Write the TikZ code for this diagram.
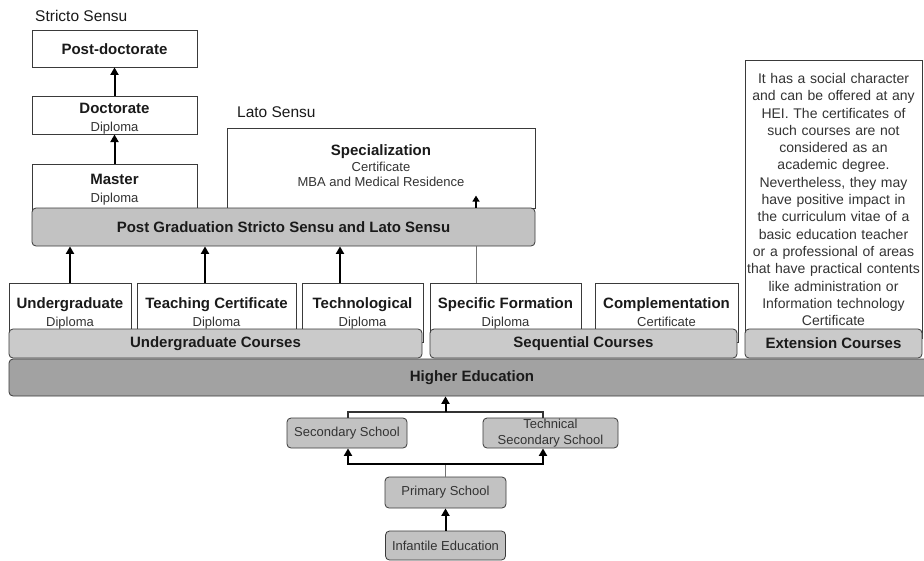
\documentclass[tikz,border=0pt]{standalone}
\usepackage{fontspec}
\setmainfont{Liberation Sans}
\usetikzlibrary{arrows.meta}
\definecolor{bordc}{HTML}{3A3A3A}
\definecolor{barA}{HTML}{C2C2C2}
\definecolor{barB}{HTML}{CACACA}
\definecolor{barC}{HTML}{A2A2A2}
\definecolor{txtc}{HTML}{1A1A1A}
\definecolor{subc}{HTML}{333333}
\newcommand\mytitlefont{\fontsize{15}{18}\selectfont\bfseries}
\newcommand\mysubfont{\fontsize{13}{17.5}\selectfont}
\tikzset{
  whitebox/.style={draw=bordc, fill=white, line width=0.8pt, inner sep=0pt, align=center, text=txtc, font=\fontsize{13}{17.5}\selectfont},
  bar/.style={draw=bordc, line width=0.8pt, rounded corners=4pt, inner sep=0pt, align=center, text=txtc, font=\mytitlefont},
  school/.style={draw=bordc, fill=barA, line width=0.8pt, rounded corners=4pt, inner sep=0pt, align=center, text=subc, font=\fontsize{13}{16}\selectfont},
  lbl/.style={inner sep=0pt, text=txtc, font=\fontsize{15.5}{18}\selectfont},
  arr/.style={line width=2pt, draw=black, -{Triangle[width=8pt,length=7.5pt]}},
  thinline/.style={draw=black!55, line width=0.8pt},
  joinline/.style={draw=black!80, line width=1.3pt},
}
\begin{document}
\begin{tikzpicture}[x=1pt,y=-1pt]
\clip (0,0) rectangle (924,560);
\fill[white] (0,0) rectangle (924,560);

% labels
\node[lbl, anchor=west] (lstricto) at (35,16) {Stricto Sensu};
\node[lbl, anchor=west] (llato) at (237,112) {Lato Sensu};

% stricto sensu boxes
\node[whitebox, minimum width=165pt, minimum height=37pt] (postdoc) at (114.5,48.5) {\rule{0pt}{12.5pt}\mytitlefont Post-doctorate};
\node[whitebox, minimum width=165pt, minimum height=38pt] (doc) at (114.5,115) {\rule{0pt}{18pt}\mytitlefont Doctorate\\\color{subc}\mysubfont Diploma};
\node[whitebox, minimum width=165pt, minimum height=48pt] (master) at (114.5,188) {\rule{0pt}{14pt}\mytitlefont Master\\\color{subc}\mysubfont Diploma};

% lato sensu box
\node[whitebox, minimum width=308pt, minimum height=80pt] (spec) at (381,168) {\mytitlefont Specialization\\[-1.5pt]\color{subc}\mysubfont Certificate\\[-2.5pt]\color{subc}\mysubfont MBA and Medical Residence\rule[-4pt]{0pt}{4pt}};

% extension box
\node[whitebox, minimum width=177pt, minimum height=278pt, text width=177pt, text=subc, font=\fontsize{14}{17.3}\selectfont] (ext) at (833.5,199.5) {It has a social character\\and can be offered at any\\HEI. The certificates of\\such courses are not\\considered as an\\academic degree.\\Nevertheless, they may\\have positive impact in\\the curriculum vitae of a\\basic education teacher\\or a professional of areas\\that have practical contents\\like administration or\\Information technology\\Certificate};

% course boxes
\node[whitebox, minimum width=122pt, minimum height=59pt] (ug) at (70,312.5) {\rule{0pt}{12.5pt}\mytitlefont Undergraduate\\\color{subc}\mysubfont Diploma};
\node[whitebox, minimum width=159pt, minimum height=59pt] (tc) at (216.5,312.5) {\rule{0pt}{12.5pt}\mytitlefont Teaching Certificate\\\color{subc}\mysubfont Diploma};
\node[whitebox, minimum width=121pt, minimum height=59pt] (tech) at (362.5,312.5) {\rule{0pt}{12.5pt}\mytitlefont Technological\\\color{subc}\mysubfont Diploma};
\node[whitebox, minimum width=151pt, minimum height=59pt] (sf) at (505.5,312.5) {\rule{0pt}{12.5pt}\mytitlefont Specific Formation\\\color{subc}\mysubfont Diploma};
\node[whitebox, minimum width=143pt, minimum height=59pt] (comp) at (666.5,312.5) {\rule{0pt}{12.5pt}\mytitlefont Complementation\\\color{subc}\mysubfont Certificate\rule[-2.8pt]{0pt}{2.8pt}};

% bars
\node[bar, fill=barA, minimum width=503pt, minimum height=38pt] (pg) at (283.5,227) {Post Graduation Stricto Sensu and Lato Sensu};
\node[bar, fill=barB, minimum width=413pt, minimum height=29pt] (ugbar) at (215.5,343.5) {Undergraduate Courses};
\node[bar, fill=barB, minimum width=307pt, minimum height=29pt] (seqbar) at (583.5,343.5) {Sequential Courses};
\node[bar, fill=barB, minimum width=177pt, minimum height=29pt] (extbar) at (833.5,343.5) {Extension Courses};
\node[bar, fill=barC, minimum width=926pt, minimum height=37pt] (hi) at (472,377.5) {Higher Education};

% schools
\node[school, minimum width=120pt, minimum height=30pt] (sec) at (347,433) {Secondary School};
\node[school, minimum width=135pt, minimum height=30pt] (tsec) at (550.5,433) {Technical\\Secondary School};
\node[school, minimum width=121pt, minimum height=31pt] (prim) at (445.5,492.5) {Primary School};
\node[school, minimum width=120pt, minimum height=29pt] (inf) at (445.5,545.5) {Infantile Education};

% stricto arrows
\draw[arr] (doc) -- (postdoc);
\draw[arr] (master) -- (doc);

% undergraduate to post graduation
\draw[arr] (ug.north) -- (ug.north |- pg.south);
\draw[arr] ([xshift=-11.5pt]tc.north) -- ([xshift=-11.5pt]tc.north |- pg.south);
\draw[arr] ([xshift=-22.5pt]tech.north) -- ([xshift=-22.5pt]tech.north |- pg.south);
\draw[thinline] ([xshift=-29.5pt]sf.north) -- ([xshift=-29.5pt]sf.north |- pg.south);
\coordinate (specin) at ([xshift=-29.5pt,yshift=12pt]sf.north |- pg.north);
\draw[arr, line width=1.5pt, -{Triangle[width=7pt,length=6pt]}] ([xshift=-29.5pt]sf.north |- pg.north) -- (specin);

% schools to higher education
\coordinate (joinA) at (445.5,412);
\draw[joinline] ([xshift=1pt]sec.north) |- (joinA) -| ([xshift=-7.5pt]tsec.north);
\draw[arr] (joinA) -- (joinA |- hi.south);
\coordinate (joinB) at (445.5,464);
\draw[thinline] (prim.north) -- (joinB);
\draw[arr] (joinB) -| ([xshift=1pt]sec.south);
\draw[arr] (joinB) -| ([xshift=-7.5pt]tsec.south);
\draw[arr] (inf) -- (prim);
\end{tikzpicture}
\end{document}
